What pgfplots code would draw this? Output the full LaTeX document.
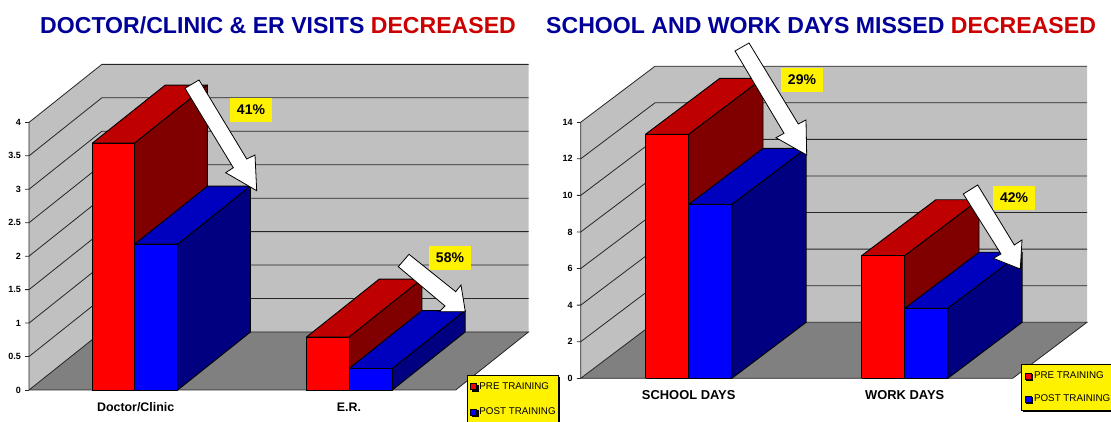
\documentclass[border=0pt]{standalone}
\usepackage{fontspec}
\setmainfont{Liberation Sans}
\usepackage{pgfplots}
\pgfplotsset{compat=1.18}
\usetikzlibrary{shadows}
\definecolor{wallc}{HTML}{C0C0C0}
\definecolor{floorc}{HTML}{808080}
\definecolor{redF}{HTML}{FF0000}
\definecolor{redT}{HTML}{BF0000}
\definecolor{redS}{HTML}{800000}
\definecolor{bluF}{HTML}{0000FF}
\definecolor{bluT}{HTML}{0000BF}
\definecolor{bluS}{HTML}{000080}
\definecolor{ttlB}{HTML}{000099}
\definecolor{ttlR}{HTML}{CC0000}
\newcommand{\fs}[1]{\fontsize{#1}{#1}\selectfont}
\newcommand{\cuboid}[6]{%
 \addplot3[forget plot,draw=black,line width=.9pt,line join=round,fill=#5] coordinates {(#1,0,#3)(#2,0,#3)(#2,1,#3)(#1,1,#3)(#1,0,#3)};
 \addplot3[forget plot,draw=black,line width=.9pt,line join=round,fill=#6] coordinates {(#2,0,0)(#2,1,0)(#2,1,#3)(#2,0,#3)(#2,0,0)};
 \addplot3[forget plot,draw=black,line width=.9pt,line join=round,fill=#4] coordinates {(#1,0,0)(#2,0,0)(#2,0,#3)(#1,0,#3)(#1,0,0)};
}
\newcommand{\shell}[1]{%
 \addplot3[forget plot,draw=none,fill=wallc] coordinates {(0,0,0)(0,1,0)(0,1,#1)(0,0,#1)(0,0,0)};
 \addplot3[forget plot,draw=none,fill=wallc] coordinates {(0,1,0)(2,1,0)(2,1,#1)(0,1,#1)(0,1,0)};
 \addplot3[forget plot,draw=none,fill=floorc] coordinates {(0,0,0)(2,0,0)(2,1,0)(0,1,0)(0,0,0)};
 \addplot3[forget plot,black!85,line width=.8pt] coordinates {(0,0,0)(0,0,#1)(0,1,#1)(2,1,#1)};
 \addplot3[forget plot,black!85,line width=.8pt] coordinates {(0,0,0)(0,1,0)(2,1,0)(2,0,0)(0,0,0)};
}
\newcommand{\tickline}[2]{\addplot3[forget plot,black!85,line width=.8pt] coordinates {(#2,0,#1)(0,0,#1)(0,1,#1)(2,1,#1)};}
\newcommand{\legkey}[1]{\addlegendimage{legend image code/.code={\path (0pt,0pt) (8.5pt,0pt);\draw[black,fill=#1,line width=.6pt] (2pt,-3pt) rectangle (8pt,3pt);}}}
\pgfplotsset{bar3d/.style={
 clip=false, xmin=0,xmax=2,ymin=0,ymax=1,zmin=0,
 axis lines*=left,
 x axis line style={draw=none},y axis line style={draw=none},
 z axis line style={draw=none},
 ytick=\empty, xtick={0.5,1.5},
 x tick style={draw=none}, z tick style={draw=none},
 major tick length=0pt, minor tick length=0pt,
 /pgf/number format/assume math mode=true,
 z tick label style={font=\bfseries\fs{9},anchor=east,xshift=-4.5pt},
 x tick label style={font=\bfseries\fs{12.4},anchor=center,yshift=-17pt},
 legend cell align=left,
 legend style={draw=black,fill=yellow,line width=.8pt,font=\fs{9.8},
   general shadow={fill=black,shadow xshift=1.6pt,shadow yshift=-1.6pt},
   row sep=13pt,inner xsep=1pt,inner ysep=5pt,anchor=north west},
}}
\begin{document}
\begin{tikzpicture}[x=1pt,y=1pt]
\path[use as bounding box] (0,0) rectangle (1111,422);
% ---- left chart
\begin{axis}[bar3d, at={(29pt,32pt)}, anchor=origin,
  x={(213.35pt,0pt)}, y={(72.8pt,58pt)}, z={(0pt,66.9pt)},
  zmax=4, ztick={0,0.5,1,1.5,2,2.5,3,3.5,4},
  xticklabels={Doctor/Clinic,E.R.},
  legend style={at={(axis cs:2.0516,0,0.224)}}]
 \legkey{redF}
 \addlegendentry{PRE TRAINING}
 \legkey{bluF}
 \addlegendentry{POST TRAINING}
 \shell{4}
 \pgfplotsinvokeforeach{0.5,1,1.5,2,2.5,3,3.5}{\tickline{#1}{-0.018}}
 \addplot3[forget plot,black!85,line width=.8pt] coordinates {(-0.018,0,4)(0,0,4)};
 \addplot3[forget plot,black!85,line width=.8pt] coordinates {(-0.018,0,0)(0,0,0)};
 \cuboid{0.297}{0.495}{3.69}{redF}{redT}{redS}
 \cuboid{0.495}{0.697}{2.18}{bluF}{bluT}{bluS}
 \cuboid{1.3}{1.5}{0.79}{redF}{redT}{redS}
 \cuboid{1.5}{1.703}{0.32}{bluF}{bluT}{bluS}
\end{axis}
% ---- right chart
\begin{axis}[bar3d, at={(580.7pt,43.7pt)}, anchor=origin,
  x={(216pt,0pt)}, y={(74.3pt,56pt)}, z={(0pt,18.29pt)},
  zmax=14, ztick={0,2,4,6,8,10,12,14},
  xticklabels={SCHOOL DAYS,WORK DAYS},
  x tick label style={font=\bfseries\fs{12.9}},
  legend style={at={(axis cs:2.04,0,0.765)},row sep=11pt}]
 \legkey{redF}
 \addlegendentry{PRE TRAINING}
 \legkey{bluF}
 \addlegendentry{POST TRAINING}
 \shell{14}
 \pgfplotsinvokeforeach{2,4,6,8,10,12}{\tickline{#1}{-0.018}}
 \addplot3[forget plot,black!85,line width=.8pt] coordinates {(-0.018,0,14)(0,0,14)};
 \addplot3[forget plot,black!85,line width=.8pt] coordinates {(-0.018,0,0)(0,0,0)};
 \cuboid{0.3}{0.5}{13.34}{redF}{redT}{redS}
 \cuboid{0.5}{0.7}{9.51}{bluF}{bluT}{bluS}
 \cuboid{1.3}{1.5}{6.70}{redF}{redT}{redS}
 \cuboid{1.5}{1.7}{3.83}{bluF}{bluT}{bluS}
\end{axis}
% ---- annotations, in image pixels
\begin{scope}[shift={(0,422)},x=1pt,y=-1pt]
 \tikzset{blk/.style={draw=black,fill=white,line width=.8pt,line join=miter},
   pct/.style={fill=yellow,minimum width=42pt,minimum height=24pt,inner sep=0pt,font=\bfseries\fs{14}}}
 \draw[blk] (185,88.3)--(199,80)--(246.7,159)--(255,155)--(256.7,190.7)--(225.7,172.7)--(233.3,167.7)--cycle;
 \draw[blk] (398.3,266.7)--(409,254.3)--(455.7,291.7)--(461,285)--(465.3,311.7)--(439.3,311.7)--(445,306)--cycle;
 \draw[blk] (735,51)--(749,43)--(798.3,124)--(806,120)--(806.7,155)--(776,137.7)--(784,133.3)--cycle;
 \draw[blk] (963.3,194)--(977.7,185)--(1014.3,245)--(1022,240)--(1020.3,269)--(993.3,258.3)--(1001,254)--cycle;
 \node[pct] at (251,109.7) {41\%};
 \node[pct] at (450,258) {58\%};
 \node[pct] at (802,80) {29\%};
 \node[pct] at (1014,198) {42\%};
 \node[anchor=base west,inner sep=0pt,font=\bfseries\fs{23.1}] at (40,33.5) {\color{ttlB}DOCTOR/CLINIC \& ER VISITS \color{ttlR}DECREASED};
 \node[anchor=base west,inner sep=0pt,font=\bfseries\fs{23.1}] at (546,33.5) {\color{ttlB}SCHOOL AND WORK DAYS MISSED \color{ttlR}DECREASED};
\end{scope}
\end{tikzpicture}
\end{document}
